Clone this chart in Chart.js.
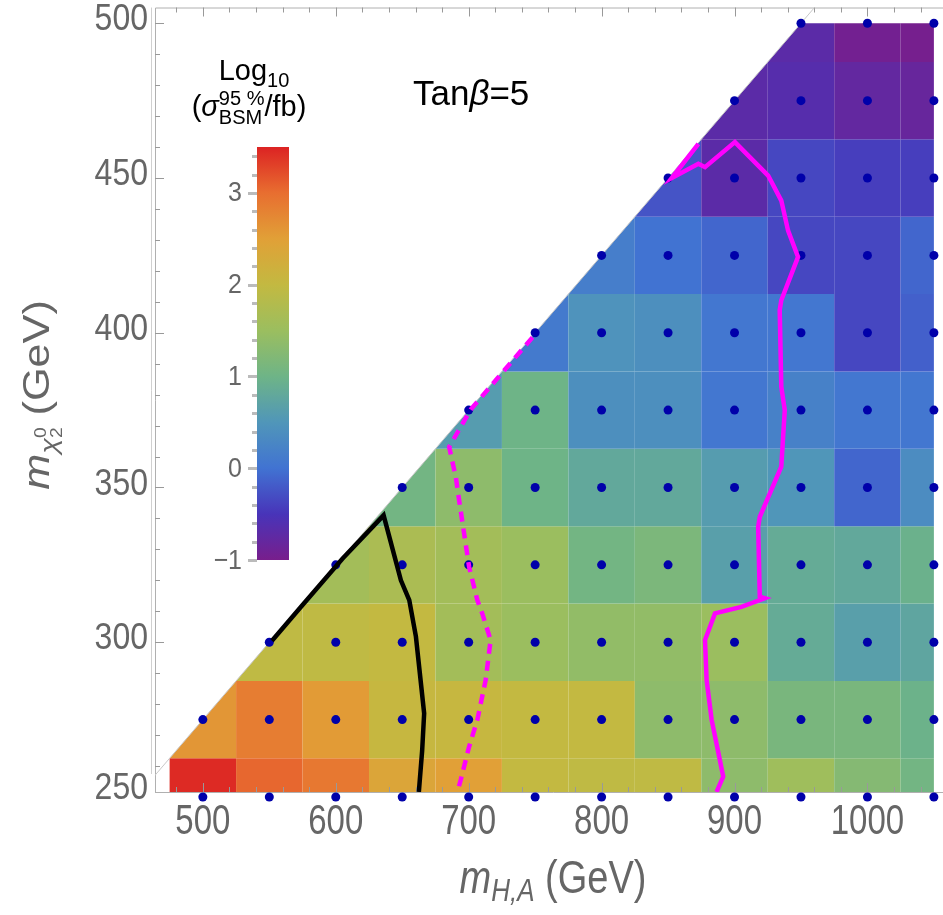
<!DOCTYPE html>
<html>
<head>
<meta charset="utf-8">
<script src="https://cdn.jsdelivr.net/npm/chart.js@4.4.1/dist/chart.umd.min.js"></script>
<style>
  html, body { margin: 0; padding: 0; overflow: hidden; background: #fff; }
  #wrap { position: absolute; left: 0; top: 0; width: 960px; height: 915px; }
</style>
</head>
<body>
<div id="wrap"><canvas id="limitChart" width="960" height="915"></canvas></div>
<script>
// --- DATA ---
const mHA = [500, 550, 600, 650, 700, 750, 800, 850, 900, 950, 1000, 1050];
const mChi = [250, 275, 300, 325, 350, 375, 400, 425, 450, 475, 500];

// log10(sigma95 / fb), one row per mChi, one column per mHA (null = outside kinematic triangle)
const logSigma = [
  [3.45, 3.05, 2.90, 2.40, 2.50, 2.00, 1.95, 1.95, 1.35, 1.55, 1.25, 1.05],
  [2.60, 2.85, 2.55, 2.05, 2.05, 2.00, 2.00, 1.35, 1.35, 1.12, 1.12, 0.97],
  [null, 1.95, 1.95, 2.00, 1.60, 1.50, 1.40, 1.40, 1.50, 0.85, 0.65, 0.75],
  [null, null, 1.60, 1.70, 1.60, 1.50, 1.05, 1.15, 0.65, 0.85, 0.80, 0.95],
  [null, null, null, 1.05, 1.35, 1.00, 0.80, 0.80, 0.60, 0.50, -0.10, 0.35],
  [null, null, null, null, 0.60, 1.00, 0.40, 0.40, 0.05, 0.20, 0.05, 0.05],
  [null, null, null, null, null, 0.10, 0.45, 0.40, 0.05, 0.05, -0.35, -0.15],
  [null, null, null, null, null, null, 0.15, 0.00, -0.10, -0.35, -0.35, -0.10],
  [null, null, null, null, null, null, null, -0.25, -0.70, -0.35, -0.42, -0.42],
  [null, null, null, null, null, null, null, null, -0.70, -0.65, -0.78, -0.82],
  [null, null, null, null, null, null, null, null, null, -0.70, -0.95, -0.98]
];

// exclusion contours [mHA, mChi]
const blackContour = [[552, 300.5], [575, 312], [605, 327], [636, 341], [649, 320], [655.3, 313.6],
  [660.3, 301.8], [666.5, 277], [665, 265], [662.5, 251.6]];
const dashedContour = [[748, 398.5], [721.5, 385.2], [701.5, 375.2], [685.3, 363.1], [690.3, 353.4],
  [692.8, 345.9], [700.3, 324.4], [706.5, 313.6], [710.2, 309.3], [716.5, 300.7], [712.8, 287.8],
  [706.5, 274.9], [700.3, 266.2], [694, 255.5], [691.5, 251.6]];
const solidContour = [[872.8, 461], [852.8, 450], [872.8, 454.6], [877.8, 453.5], [900.3, 461.6],
  [925.3, 450.8], [935.2, 442.7], [940.3, 433], [947.8, 424.5], [935.2, 410.5], [934, 407.3],
  [935.2, 382.5], [937.8, 375], [935.2, 356.7], [919, 340.5], [917.8, 337.3], [919, 314.7],
  [922.8, 314.2], [905.2, 311.4], [885.3, 309.3], [877.8, 300.7], [879, 287.8], [882.8, 274.9],
  [891.5, 256.6], [886.5, 251.6]];

// kinematic edge mChi = mHA/2 + 25
const edgeLine = [[440, 245], [980, 515]];

// axis ticks
const xTicks = [500, 600, 700, 800, 900, 1000];
const yTicks = [250, 300, 350, 400, 450, 500];
const cbTicks = [-1, 0, 1, 2, 3];

// --- COLOUR MAP (Rainbow-like) ---
const CB_MIN = -1, CB_MAX = 3.5;
const cbStops = [
  [-1.0, [120, 30, 140]], [-0.5, [72, 52, 185]], [0.0, [65, 115, 210]], [0.5, [80, 150, 185]],
  [1.0, [110, 180, 135]], [1.5, [155, 190, 95]], [2.0, [195, 185, 65]], [2.5, [225, 160, 55]],
  [3.0, [232, 110, 48]], [3.5, [220, 35, 35]]
];

function colorFor(v) {
  v = Math.min(Math.max(v, CB_MIN), CB_MAX);
  for (let i = 1; i < cbStops.length; i++) {
    const [v1, c1] = cbStops[i];
    if (v <= v1) {
      const [v0, c0] = cbStops[i - 1];
      const t = (v - v0) / (v1 - v0);
      const c = c0.map((ch, k) => Math.round(ch + (c1[k] - ch) * t));
      return `rgb(${c[0]},${c[1]},${c[2]})`;
    }
  }
  return 'rgb(220,35,35)';
}

// keep the part of a polygon below the kinematic edge
function clipBelowEdge(poly) {
  const f = p => p[1] - (p[0] / 2 + 25);
  const out = [];
  for (let i = 0; i < poly.length; i++) {
    const a = poly[i], b = poly[(i + 1) % poly.length];
    const fa = f(a), fb = f(b);
    if (fa <= 0) out.push(a);
    if ((fa < 0 && fb > 0) || (fa > 0 && fb < 0)) {
      const t = fa / (fa - fb);
      out.push([a[0] + (b[0] - a[0]) * t, a[1] + (b[1] - a[1]) * t]);
    }
  }
  return out;
}

// --- TEXT HELPERS ---
const SANS = "'Liberation Sans', Arial, sans-serif";
function runsWidth(ctx, runs) {
  let w = 0, pending = 0;
  runs.forEach(r => {
    ctx.font = r.font;
    const m = ctx.measureText(r.t).width;
    if (r.stack) pending = Math.max(pending, m);
    else { w += Math.max(pending, m); pending = 0; }
  });
  return w + pending;
}
function drawRuns(ctx, runs, x, y, align) {
  let cx = align === 'center' ? x - runsWidth(ctx, runs) / 2 : x;
  let pending = 0;
  ctx.textBaseline = 'alphabetic';
  ctx.textAlign = 'left';
  runs.forEach(r => {
    ctx.font = r.font;
    const m = ctx.measureText(r.t).width;
    ctx.fillText(r.t, cx, y + (r.dy || 0));
    if (r.stack) pending = Math.max(pending, m);
    else { cx += Math.max(pending, m); pending = 0; }
  });
}
// the original labels are drawn a little stretched
function fillScaled(ctx, text, x, y, sx, sy) {
  ctx.save();
  ctx.translate(x, y);
  ctx.scale(sx, sy);
  ctx.fillText(text, 0, 0);
  ctx.restore();
}

// --- PLUGINS ---
const heatmapPlugin = {
  id: 'heatmap',
  beforeDatasetsDraw(chart) {
    const { ctx, chartArea: a, scales: { x, y } } = chart;
    ctx.save();
    ctx.beginPath();
    ctx.rect(a.left, a.top, a.right - a.left, a.bottom - a.top);
    ctx.clip();
    mChi.forEach((yc, r) => mHA.forEach((xc, c) => {
      const v = logSigma[r][c];
      if (v === null) return;
      const x0 = Math.max(xc - 25, mHA[0] - 25), x1 = Math.min(xc + 25, mHA[mHA.length - 1]);
      const y0 = Math.max(yc - 12.5, mChi[0]), y1 = Math.min(yc + 12.5, mChi[mChi.length - 1]);
      const poly = clipBelowEdge([[x0, y0], [x1, y0], [x1, y1], [x0, y1]]);
      if (poly.length < 3) return;
      ctx.beginPath();
      poly.forEach((p, i) => {
        const px = x.getPixelForValue(p[0]), py = y.getPixelForValue(p[1]);
        if (i) ctx.lineTo(px, py); else ctx.moveTo(px, py);
      });
      ctx.closePath();
      ctx.fillStyle = colorFor(v);
      ctx.fill();
    }));
    ctx.restore();

    // frame + inward ticks
    ctx.save();
    ctx.strokeStyle = '#b0b0b0';
    ctx.lineWidth = 1;
    ctx.beginPath();
    ctx.moveTo(a.left + 0.5, a.bottom + 0.5); ctx.lineTo(a.left + 0.5, a.top + 0.5); ctx.lineTo(a.right, a.top + 0.5);
    ctx.moveTo(a.left, a.bottom + 0.5); ctx.lineTo(a.right, a.bottom + 0.5);
    ctx.stroke();
    ctx.strokeStyle = '#d0d0d0';
    ctx.beginPath(); ctx.moveTo(a.left - 3.5, a.top); ctx.lineTo(a.left - 3.5, a.bottom - 18); ctx.stroke();
    ctx.strokeStyle = '#999';
    ctx.beginPath();
    for (let v = 480; v <= 1060; v += 20) {
      const px = Math.round(x.getPixelForValue(v)) + 0.5;
      const len = v % 100 === 0 ? 9 : 5;
      ctx.moveTo(px, a.bottom); ctx.lineTo(px, a.bottom - len);
      ctx.moveTo(px, a.top); ctx.lineTo(px, a.top + len);
    }
    for (let v = 260; v <= 500; v += 10) {
      const py = Math.round(y.getPixelForValue(v)) + 0.5;
      const len = v % 50 === 0 ? 9 : 5;
      ctx.moveTo(a.left, py); ctx.lineTo(a.left + len, py);
    }
    ctx.stroke();
    ctx.restore();
  },
  afterDraw(chart) {
    const { ctx, chartArea: a, scales: { x, y } } = chart;
    ctx.save();
    ctx.fillStyle = '#666';
    ctx.textBaseline = 'middle';
    ctx.font = `32px ${SANS}`;
    ctx.textAlign = 'right';
    yTicks.forEach(v => fillScaled(ctx, String(v), 148, Math.min(y.getPixelForValue(v), a.bottom) - 3, 1, 1.15));
    ctx.textAlign = 'center';
    ctx.font = `33px ${SANS}`;
    xTicks.forEach(v => fillScaled(ctx, String(v), x.getPixelForValue(v), 822, 1, 1.3));

    // axis titles
    ctx.save();
    ctx.translate(553, 893);
    ctx.scale(1, 1.2);
    drawRuns(ctx, [
      { t: 'm', font: `italic 38px ${SANS}` },
      { t: 'H,A', font: `italic 26px ${SANS}`, dy: 7 },
      { t: ' (GeV)', font: `38px ${SANS}` }
    ], 0, 0, 'center');
    ctx.restore();
    ctx.save();
    ctx.translate(49, 395);
    ctx.rotate(-Math.PI / 2);
    ctx.scale(1.2, 1);
    drawRuns(ctx, [
      { t: 'm', font: `italic 36px ${SANS}` },
      { t: 'χ', font: `italic 24px ${SANS}`, dy: 8 },
      { t: '0', font: `16px ${SANS}`, dy: -3, stack: true },
      { t: '2', font: `16px ${SANS}`, dy: 13 },
      { t: ' (GeV)', font: `36px ${SANS}` }
    ], 0, 0, 'center');
    ctx.restore();

    // panel label
    ctx.fillStyle = '#000';
    drawRuns(ctx, [
      { t: 'Tan', font: `35px ${SANS}` },
      { t: 'β', font: `italic 35px ${SANS}` },
      { t: '=5', font: `35px ${SANS}` }
    ], 413, 105, 'left');

    // colour bar
    const cbL = 257, cbR = 289, cbT = 147, cbB = 560;
    const cbY = v => cbB - (v - CB_MIN) / (CB_MAX - CB_MIN) * (cbB - cbT);
    const grad = ctx.createLinearGradient(0, cbB, 0, cbT);
    cbStops.forEach(([v, c]) => grad.addColorStop((v - CB_MIN) / (CB_MAX - CB_MIN), `rgb(${c[0]},${c[1]},${c[2]})`));
    ctx.fillStyle = grad;
    ctx.fillRect(cbL, cbT, cbR - cbL, cbB - cbT);
    ctx.strokeStyle = '#bbb';
    ctx.beginPath();
    for (let k = 0; k <= 22; k++) {
      const v = CB_MIN + k * 0.2;
      const py = Math.round(cbY(v)) + 0.5;
      const major = Math.abs(v - Math.round(v)) < 1e-6;
      ctx.moveTo(cbL - (major ? 9 : 5), py); ctx.lineTo(cbL, py);
    }
    ctx.stroke();
    ctx.fillStyle = '#666';
    ctx.font = `25px ${SANS}`;
    ctx.textAlign = 'right';
    ctx.textBaseline = 'middle';
    cbTicks.forEach(v => fillScaled(ctx, v < 0 ? '\u2212' + Math.abs(v) : String(v), 242, cbY(v) + 1, 1, 1.1));

    ctx.fillStyle = '#000';
    drawRuns(ctx, [
      { t: 'Log', font: `29px ${SANS}` },
      { t: '10', font: `20px ${SANS}`, dy: 7 }
    ], 254, 80, 'center');
    drawRuns(ctx, [
      { t: '(', font: `29px ${SANS}` },
      { t: 'σ', font: `italic 29px ${SANS}` },
      { t: '95 %', font: `20px ${SANS}`, dy: -11, stack: true },
      { t: 'BSM', font: `20px ${SANS}`, dy: 8 },
      { t: '/fb)', font: `29px ${SANS}` }
    ], 249, 116, 'center');
    ctx.restore();
  }
};

// --- CHART ---
const toXY = arr => arr.map(([x, y]) => ({ x, y }));
const gridPoints = [];
mChi.forEach(yc => mHA.forEach(xc => { if (yc <= xc / 2 + 25) gridPoints.push({ x: xc, y: yc }); }));

const lineStyle = { showLine: true, pointRadius: 0, borderWidth: 4.5, tension: 0, fill: false };

new Chart(document.getElementById('limitChart').getContext('2d'), {
  type: 'scatter',
  data: {
    datasets: [
      { ...lineStyle, data: toXY(blackContour), borderColor: '#000', order: 1 },
      { ...lineStyle, data: toXY(dashedContour), borderColor: '#ff00ff', borderDash: [10, 7], order: 1 },
      { ...lineStyle, data: toXY(solidContour), borderColor: '#ff00ff', order: 1 },
      // transparent border widens the in-area margin so the mChi = 250 row below the frame is kept
      { data: gridPoints, pointRadius: 4.5, pointBackgroundColor: '#0000aa', pointBorderWidth: 3,
        pointBorderColor: 'rgba(0,0,0,0)', clip: false, order: 2 },
      { ...lineStyle, data: toXY(edgeLine), borderColor: '#c8c8c8', borderWidth: 1, order: 3 }
    ]
  },
  options: {
    responsive: false,
    animation: false,
    events: [],
    layout: { padding: { left: 155, top: 7, right: 5, bottom: 123 } },
    plugins: { legend: { display: false }, tooltip: { enabled: false } },
    scales: {
      x: { type: 'linear', min: 464, max: 1064, display: false },
      y: { type: 'linear', min: 251.6, max: 505.1, display: false }
    }
  },
  plugins: [heatmapPlugin]
});
</script>
</body>
</html>
